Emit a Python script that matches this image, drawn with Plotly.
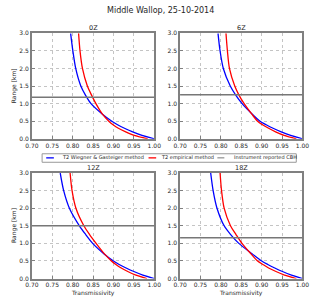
import plotly.graph_objects as go

# ---------------- data ----------------
heights = [0.0, 0.1, 0.2, 0.3, 0.4, 0.5, 0.7, 1.0, 1.25, 1.5, 2.0, 2.5, 3.0]

panels = ["0Z", "6Z", "12Z", "18Z"]

wg_0z = [1.000, 0.970, 0.947, 0.927, 0.910, 0.896, 0.873, 0.845, 0.831, 0.820, 0.8075, 0.8005, 0.795]
emp_0z = [0.984, 0.951, 0.930, 0.912, 0.899, 0.8886, 0.873, 0.857, 0.846, 0.836, 0.824, 0.818, 0.8145]

wg_6z = [1.000, 0.971, 0.948, 0.928, 0.911, 0.896, 0.877, 0.852, 0.836, 0.823, 0.806, 0.798, 0.793]
emp_6z = [0.985, 0.955, 0.934, 0.917, 0.902, 0.890, 0.876, 0.857, 0.844, 0.834, 0.821, 0.816, 0.8125]

wg_12z = [1.000, 0.972, 0.950, 0.931, 0.914, 0.900, 0.877, 0.849, 0.832, 0.8165, 0.792, 0.778, 0.7695]
emp_12z = [0.982, 0.955, 0.935, 0.919, 0.906, 0.895, 0.878, 0.8575, 0.8415, 0.8275, 0.808, 0.7985, 0.7937]

wg_18z = [1.000, 0.973, 0.951, 0.932, 0.915, 0.900, 0.877, 0.844, 0.824, 0.808, 0.7905, 0.781, 0.775]
emp_18z = [0.985, 0.956, 0.935, 0.917, 0.903, 0.890, 0.874, 0.8516, 0.837, 0.8235, 0.808, 0.8016, 0.798]

cbh = [1.18, 1.255, 1.50, 1.16]

x_ticks = [0.70, 0.75, 0.80, 0.85, 0.90, 0.95, 1.00]
y_ticks = [0.0, 0.5, 1.0, 1.5, 2.0, 2.5, 3.0]

title = "Middle Wallop, 25-10-2014"
legend_labels = ["T2 Wiegner & Gasteiger method", "T2 empirical method", "Instrument reported CBH"]
x_label = "Transmissivity"
y_label = "Range [km]"

wg = [wg_0z, wg_6z, wg_12z, wg_18z]
emp = [emp_0z, emp_6z, emp_12z, emp_18z]

# ---------------- layout geometry (pixels of a 320x304 canvas) ----------------
W, H = 320, 304
col_px = [(26, 154), (181, 309)]
row_px = [(30, 138), (173, 281)]

def px_x(p):
    return p / W

def px_y(p):
    return 1 - p / H

FONT = "DejaVu Sans"
GRID = "#c4c4c4"
FRAME = "#808080"
TXT = "#262626"

fig = go.Figure()
layout = dict(
    width=W, height=H,
    margin=dict(l=0, r=0, t=0, b=0),
    paper_bgcolor="white", plot_bgcolor="white",
    showlegend=False,
    font=dict(family=FONT, size=6, color=TXT),
)
annotations = []
shapes = []

for i, name in enumerate(panels):
    r, c = divmod(i, 2)
    xa = "xaxis" if i == 0 else f"xaxis{i+1}"
    ya = "yaxis" if i == 0 else f"yaxis{i+1}"
    xr = "x" if i == 0 else f"x{i+1}"
    yr = "y" if i == 0 else f"y{i+1}"
    x0, x1 = col_px[c]
    y0, y1 = row_px[r]
    common = dict(
        showline=True, linecolor=FRAME, linewidth=1.5, mirror=True,
        showgrid=True, gridcolor=GRID, griddash="dot", gridwidth=1,
        ticks="inside", ticklen=3, tickcolor=FRAME, tickwidth=1,
        zeroline=False, tickfont=dict(family=FONT, size=6, color=TXT),
    )
    layout[xa] = dict(common, domain=[px_x(x0), px_x(x1)], range=[0.70, 1.00],
                      tickvals=x_ticks, ticktext=[f"{v:.2f}" for v in x_ticks],
                      anchor=yr)
    layout[ya] = dict(common, domain=[px_y(y1), px_y(y0)], range=[0.0, 3.0],
                      tickvals=y_ticks, ticktext=[f"{v:.1f}" for v in y_ticks],
                      anchor=xr)

    fig.add_trace(go.Scatter(x=wg[i], y=heights, mode="lines", xaxis=xr, yaxis=yr,
                             line=dict(color="#0000ff", width=1.3, shape="spline", smoothing=0.8),
                             name=legend_labels[0]))
    fig.add_trace(go.Scatter(x=emp[i], y=heights, mode="lines", xaxis=xr, yaxis=yr,
                             line=dict(color="#ff0000", width=1.3, shape="spline", smoothing=0.8),
                             name=legend_labels[1]))
    shapes.append(dict(type="line", xref=f"{xr} domain", yref=yr, x0=0, x1=1,
                       y0=cbh[i], y1=cbh[i], line=dict(color="#777777", width=1.5)))

    annotations.append(dict(text=name, xref="paper", yref="paper",
                            x=px_x((x0 + x1) / 2), y=px_y(y0 - 5), showarrow=False,
                            xanchor="center", yanchor="middle",
                            font=dict(family=FONT, size=6.5, color=TXT)))
    if c == 0:
        annotations.append(dict(text=y_label, xref="paper", yref="paper", textangle=-90,
                                x=px_x(7.5), y=px_y((y0 + y1) / 2), showarrow=False,
                                xanchor="center", yanchor="middle",
                                font=dict(family=FONT, size=6, color=TXT)))
    if r == 1:
        annotations.append(dict(text=x_label, xref="paper", yref="paper",
                                x=px_x((x0 + x1) / 2), y=px_y(295.5), showarrow=False,
                                xanchor="center", yanchor="middle",
                                font=dict(family=FONT, size=6, color=TXT)))

# main title
annotations.append(dict(text=title, xref="paper", yref="paper", x=0.5, y=px_y(7),
                        showarrow=False, xanchor="center", yanchor="middle",
                        font=dict(family=FONT, size=8, color=TXT)))

# legend box (drawn manually to match the compact reference legend)
shapes.append(dict(type="rect", xref="paper", yref="paper",
                   x0=px_x(36.7), x1=px_x(302.5), y0=px_y(162), y1=px_y(153.3),
                   line=dict(color="#999999", width=1), fillcolor="white"))
leg_items = [(41, 49, 55, "#0000ff", 1.3), (148, 156, 159, "#ff0000", 1.3),
             (220, 227.3, 235, "#777777", 1.0)]
for (lx0, lx1, tx, col, lw), lab in zip(leg_items, legend_labels):
    shapes.append(dict(type="line", xref="paper", yref="paper",
                       x0=px_x(lx0), x1=px_x(lx1), y0=px_y(157.5), y1=px_y(157.5),
                       line=dict(color=col, width=lw)))
    annotations.append(dict(text=lab, xref="paper", yref="paper", x=px_x(tx),
                            y=px_y(157.5), showarrow=False, xanchor="left",
                            yanchor="middle", font=dict(family=FONT, size=5, color=TXT)))

layout["annotations"] = annotations
layout["shapes"] = shapes
fig.update_layout(**layout)
fig.write_html("out.html", config={"displayModeBar": False},
               post_script="document.body.style.margin='0';")
